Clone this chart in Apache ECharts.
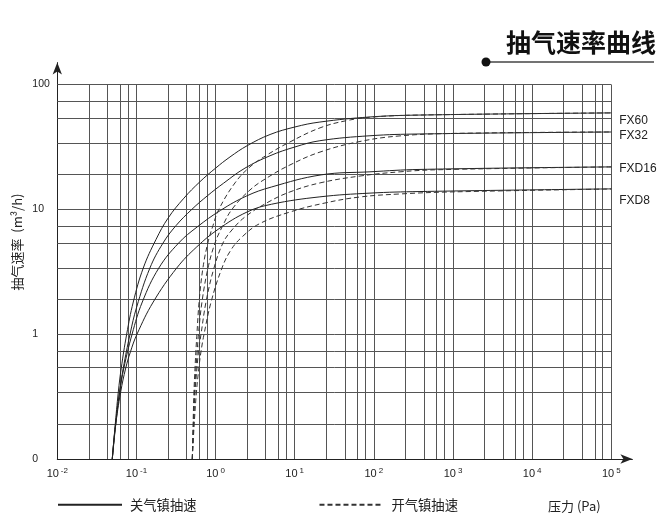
<!DOCTYPE html>
<html><head><meta charset="utf-8">
<script src="https://cdn.jsdelivr.net/npm/echarts@6/dist/echarts.min.js"></script>
<style>html,body{margin:0;padding:0;background:#fff}#c{width:666px;height:517px}</style>
</head><body><div id="c"></div>
<script>
// ---- data (pressure Pa, speed m3/h) ----
const modelNames = ['FX60', 'FX32', 'FXD16', 'FXD8'];
const closedFX60 = [[0.0495,0.1],[0.0536,0.18],[0.059,0.344],[0.0643,0.536],[0.0753,1.0],[0.0912,1.81],[0.122,3.39],[0.177,5.75],[0.251,8.51],[0.398,12.3],[0.631,16.6],[1,21.4],[1.52,26.3],[2.51,32.4],[4.88,39.8],[10,45.7],[20.8,50.1],[89.3,55.0],[383,57.0],[100000,59.3]];
const closedFX32 = [[0.0495,0.1],[0.0543,0.18],[0.0611,0.344],[0.0682,0.536],[0.083,1.0],[0.1007,1.65],[0.148,3.39],[0.217,5.38],[0.316,7.41],[0.501,10.0],[0.794,12.9],[1.26,16.2],[2.35,21.4],[4.88,26.9],[10,31.6],[20.8,35.5],[89.3,38.9],[383,40.2],[100000,41.7]];
const closedFXD16 = [[0.0495,0.1],[0.0539,0.18],[0.0614,0.344],[0.0694,0.536],[0.0881,1.0],[0.1186,1.81],[0.1919,3.39],[0.342,5.38],[0.585,7.23],[1.15,9.8],[2.46,12.8],[5.06,15.1],[21.6,18.9],[89.3,20.0],[383,20.9],[100000,21.9]];
const closedFXD8 = [[0.0495,0.1],[0.0542,0.18],[0.0632,0.344],[0.0733,0.536],[0.0838,0.719],[0.1016,1.0],[0.163,1.81],[0.323,3.39],[0.579,5.01],[1.076,6.92],[2.50,9.53],[5.1,11.0],[20.8,12.6],[89.3,13.5],[383,13.9],[100000,14.6]];
const openFX60 = [[0.508,0.1],[0.519,0.18],[0.533,0.344],[0.550,0.536],[0.563,0.719],[0.581,1.0],[0.619,1.81],[0.692,3.39],[0.798,5.38],[0.927,7.41],[1.10,10],[1.76,16.3],[2.72,21.9],[4.47,27.3],[8.71,34.7],[20.9,45],[45.8,51.5],[97.5,55.0],[383,57.0],[100000,59.3]];
const openFX32 = [[0.508,0.1],[0.524,0.18],[0.542,0.344],[0.566,0.536],[0.585,0.719],[0.608,1.0],[0.673,1.81],[0.802,3.39],[0.984,5.38],[1.21,7.23],[1.61,10],[2.72,14.3],[4.47,17.9],[8.71,22.7],[20.9,28.8],[66.8,35],[214,38.8],[1000,40.6],[100000,41.7]];
const openFXD16 = [[0.508,0.1],[0.526,0.18],[0.550,0.344],[0.582,0.536],[0.608,0.719],[0.655,1.0],[0.757,1.81],[0.955,3.39],[1.24,5.38],[1.61,6.84],[2.35,8.69],[4.47,11.3],[8.71,13.8],[20.9,16.3],[66.8,18.5],[214,20.0],[685,20.8],[100000,21.9]];
const openFXD8 = [[0.508,0.1],[0.534,0.18],[0.573,0.344],[0.615,0.536],[0.653,0.72],[0.715,1.0],[0.877,1.81],[1.204,3.39],[1.564,4.73],[2.158,6.01],[3.54,7.64],[8.71,9.53],[24.1,11.25],[66.8,12.57],[214,13.29],[917,13.79],[100000,14.57]];

// grid lines (multipliers inside each decade)
const xGridDecades = [0.01, 0.1, 1, 10, 100, 1000, 10000];
const xGridMult = [2.5, 4.3, 6.2, 7.8, 10];
const yGridDecades = [0.1, 1, 10];
const yGridMult = [1.9, 3.4, 5.4, 7.3, 10];
const yTickValues = [0.1, 1, 10, 100];
const yTickText = ['0', '1', '10', '100'];
const xTickExp = [-2, -1, 0, 1, 2, 3, 4, 5];

const xMin = 0.01, xMax = 1.85e5, yMin = 0.1, yMax = 150;
const xGridEnd = 100000, yGridEnd = 100;

const legendClosed = '关气镇抽速', legendOpen = '开气镇抽速';
const labelOffsets = [8, 4, 2, 12];

const gridLines = [];
xGridDecades.forEach(d => xGridMult.forEach(m => {
  const v = +(d * m).toPrecision(6);
  gridLines.push([{coord: [v, yMin]}, {coord: [v, yGridEnd]}]);
}));
yGridDecades.forEach(d => yGridMult.forEach(m => {
  const v = +(d * m).toPrecision(6);
  gridLines.push([{coord: [xMin, v]}, {coord: [xGridEnd, v]}]);
}));

const closedSets = [closedFX60, closedFX32, closedFXD16, closedFXD8];
const openSets = [openFX60, openFX32, openFXD16, openFXD8];
const narrow = "'Liberation Sans Narrow', 'Liberation Sans', Arial, sans-serif";
const cjk = "'Noto Sans CJK SC', sans-serif";

const series = [{
  type: 'line', data: [], silent: true, z: 1,
  markLine: {silent: true, symbol: ['none', 'none'], z: 1, animation: false,
    label: {show: false}, lineStyle: {color: '#555', width: 1, type: 'solid'},
    emphasis: {disabled: true}, data: gridLines}
}];
closedSets.forEach((d, i) => series.push({
  name: legendClosed, type: 'line', data: d, symbol: 'none', smooth: 0.4, z: 3,
  lineStyle: {color: '#222', width: 1},
  endLabel: {show: true, formatter: modelNames[i], distance: 8, offset: [0, labelOffsets[i]],
    color: '#222', fontSize: 12, fontFamily: "'Liberation Sans', Arial, sans-serif"}
}));
openSets.forEach(d => series.push({
  name: legendOpen, type: 'line', data: d, symbol: 'none', smooth: 0.4, z: 3,
  lineStyle: {color: '#333', width: 1, type: [5, 3]}
}));

const chart = echarts.init(document.getElementById('c'), null, {renderer: 'canvas'});
chart.setOption({
  animation: false,
  backgroundColor: '#fff',
  title: {text: '抽气速率曲线', left: 501, top: 25,
    textStyle: {fontSize: 25, fontWeight: 'bold', color: '#111', fontFamily: cjk}},
  grid: {left: 57.3, right: 33.6, top: 62.6, bottom: 58, containLabel: false},
  legend: {left: 57, top: 498, padding: 0, itemWidth: 64, itemHeight: 12, itemGap: 122, selectedMode: false,
    data: [legendClosed, legendOpen], itemStyle: {opacity: 0},
    textStyle: {fontSize: 13.3, color: '#222', fontFamily: cjk, padding: [0, 0, 0, 3]}},
  xAxis: {type: 'log', min: xMin, max: xMax, logBase: 10,
    axisLine: {show: true, symbol: ['none', 'arrow'], symbolSize: [7, 12], lineStyle: {color: '#222', width: 1}},
    axisTick: {show: false}, splitLine: {show: false},
    axisLabel: {margin: 8, color: '#222',
      formatter: v => {
        const e = Math.log10(v), r = Math.round(e);
        if (Math.abs(e - r) > 1e-6 || xTickExp.indexOf(r) < 0) return '';
        return '{b|10}{s|' + (r < 0 ? '-' + (-r) : r) + '}';
      },
      rich: {b: {fontSize: 11, fontFamily: narrow, color: '#222', lineHeight: 14},
             s: {fontSize: 8, fontFamily: narrow, color: '#222', verticalAlign: 'top', padding: [0, 0, 0, 2], lineHeight: 14}}}
  },
  yAxis: {type: 'log', min: yMin, max: yMax, logBase: 10,
    axisLine: {show: true, symbol: ['none', 'arrow'], symbolSize: [7, 12], lineStyle: {color: '#222', width: 1}},
    axisTick: {show: false}, splitLine: {show: false},
    axisLabel: {margin: 25, align: 'left', color: '#222', fontSize: 10.5, fontFamily: narrow,
      formatter: v => {
        const i = yTickValues.findIndex(t => Math.abs(Math.log10(t) - Math.log10(v)) < 1e-6);
        return i < 0 ? '' : yTickText[i];
      }}
  },
  graphic: [
    {type: 'line', shape: {x1: 486, y1: 62, x2: 654, y2: 62}, style: {stroke: '#444', lineWidth: 1.5}, silent: true},
    {type: 'circle', shape: {cx: 486, cy: 62, r: 4.5}, style: {fill: '#111'}, silent: true},
    {type: 'text', x: 17, y: 242, rotation: Math.PI / 2, silent: true,
      style: {text: '抽气速率  (m³/h)', fontSize: 13, fill: '#222', fontFamily: cjk, align: 'center', verticalAlign: 'middle'}},
    {type: 'text', x: 548, y: 506, silent: true,
      style: {text: '压力 (Pa)', fontSize: 13, fill: '#222', fontFamily: cjk, align: 'left', verticalAlign: 'middle'}}
  ],
  series: series
});
</script></body></html>
